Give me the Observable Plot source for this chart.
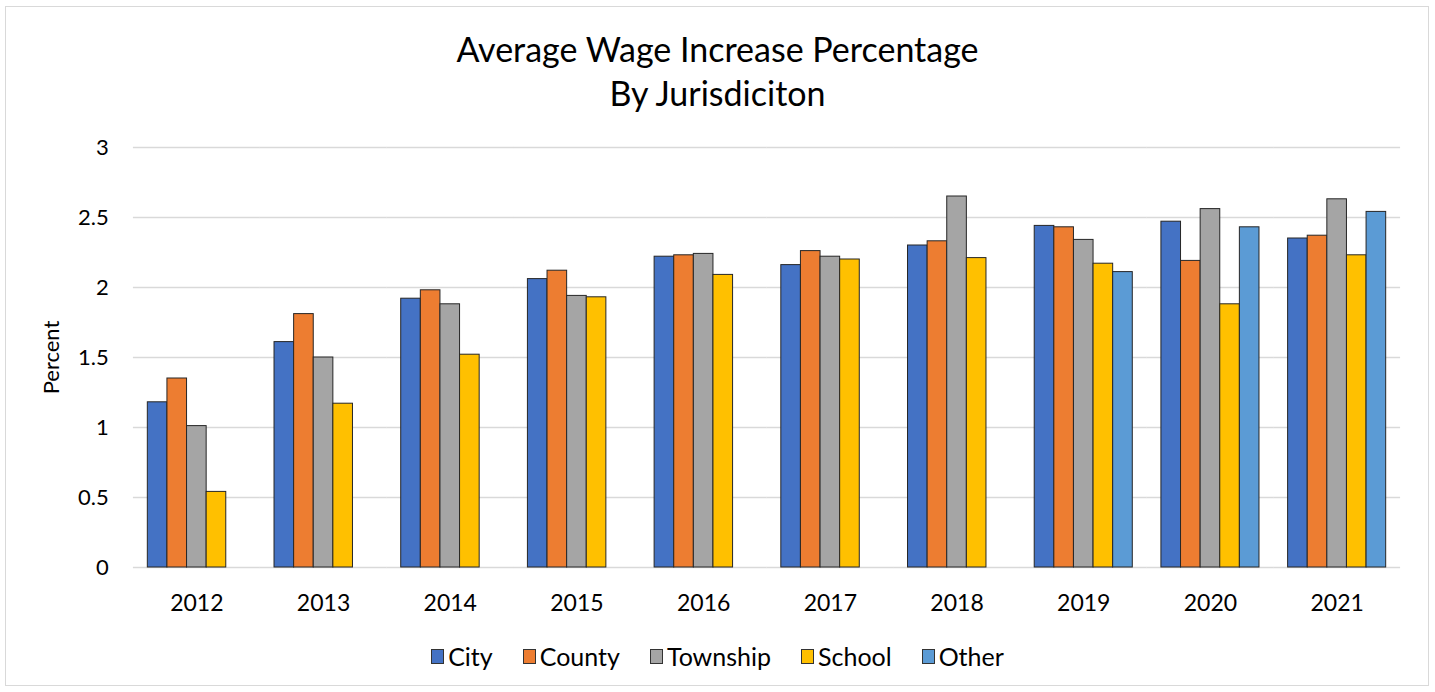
<!DOCTYPE html>
<html><head><meta charset="utf-8">
<script src="https://cdn.jsdelivr.net/npm/d3@7"></script>
<script src="https://cdn.jsdelivr.net/npm/@observablehq/plot@0.6"></script>
<style>
body{margin:0;background:#fff;font-family:Lato,"Noto Sans",sans-serif;color:#000;}
#wrap{position:relative;width:1435px;height:692px;overflow:hidden;background:#fff;}
#frame{position:absolute;left:5px;top:6px;width:1422px;height:678px;border:1.5px solid #d9d9d9;}
#title{position:absolute;left:0;top:27px;width:1435px;text-align:center;font-size:34px;line-height:44px;}
#chart{position:absolute;left:0;top:120px;}
#legend{position:absolute;left:0;top:641px;width:1435px;height:30px;display:flex;justify-content:center;align-items:center;font-size:25px;}
.item{display:flex;align-items:center;margin:0 15px;}
.sw{width:11px;height:13px;border:1px solid #333;margin-right:4px;}
</style>
</head>
<body>
<div id="wrap">
  <div id="frame"></div>
  <div id="title">Average Wage Increase Percentage<br>By Jurisdiciton</div>
  <div id="chart"></div>
  <div id="legend"></div>
</div>
<script>
const years = ["2012","2013","2014","2015","2016","2017","2018","2019","2020","2021"];
const series = ["City","County","Township","School","Other"];
const colors = ["#4472C4","#ED7D31","#A5A5A5","#FFC000","#5B9BD5"];
const city     = [1.18, 1.61, 1.92, 2.06, 2.22, 2.16, 2.30, 2.44, 2.47, 2.35];
const county   = [1.35, 1.81, 1.98, 2.12, 2.23, 2.26, 2.33, 2.43, 2.19, 2.37];
const township = [1.01, 1.50, 1.88, 1.94, 2.24, 2.22, 2.65, 2.34, 2.56, 2.63];
const school   = [0.54, 1.17, 1.52, 1.93, 2.09, 2.20, 2.21, 2.17, 1.88, 2.23];
const other    = [null, null, null, null, null, null, null, 2.11, 2.43, 2.54];
const yTicks = [0, 0.5, 1, 1.5, 2, 2.5, 3];
const yTickLabels = ["0", "0.5", "1", "1.5", "2", "2.5", "3"];
const yLabel = "Percent";

const valuesBySeries = [city, county, township, school, other];
const data = [];
years.forEach((yr, i) => {
  series.forEach((s, j) => {
    const v = valuesBySeries[j][i];
    if (v != null) data.push({year: yr, series: s, value: v});
  });
});

const chart = Plot.plot({
  width: 1435,
  height: 500,
  marginTop: 27,
  marginBottom: 53,
  marginLeft: 133,
  marginRight: 35,
  style: {fontFamily: "Lato, 'Noto Sans', sans-serif", fontSize: "22px", color: "#000", background: "transparent", overflow: "visible"},
  fx: {domain: years, paddingInner: 0.226, paddingOuter: 0.113, round: false, label: null, axis: null},
  x: {domain: series, padding: 0, round: false, axis: null},
  y: {domain: [0, 3], axis: null},
  color: {domain: series, range: colors},
  marks: [
    Plot.ruleY(yTicks, {stroke: "#d9d9d9", strokeWidth: 1.4, insetLeft: -14.4, insetRight: -14.4}),
    Plot.axisY({ticks: yTicks, tickSize: 0, tickPadding: 39,
      tickFormat: d => yTickLabels[yTicks.indexOf(d)],
      label: yLabel, labelAnchor: "center", labelOffset: 104, labelArrow: false, fontSize: 22}),
    Plot.barY(data, {fx: "year", x: "series", y: "value", fill: "series", stroke: "#262626", strokeWidth: 1}),
    Plot.axisFx({anchor: "bottom", tickSize: 0, tickPadding: 27, label: null, fontSize: 23})
  ]
});
document.getElementById("chart").appendChild(chart);

const legend = document.getElementById("legend");
series.forEach((s, j) => {
  const item = document.createElement("div");
  item.className = "item";
  const sw = document.createElement("div");
  sw.className = "sw";
  sw.style.background = colors[j];
  const t = document.createElement("span");
  t.textContent = s;
  item.appendChild(sw);
  item.appendChild(t);
  legend.appendChild(item);
});
</script>
</body></html>
